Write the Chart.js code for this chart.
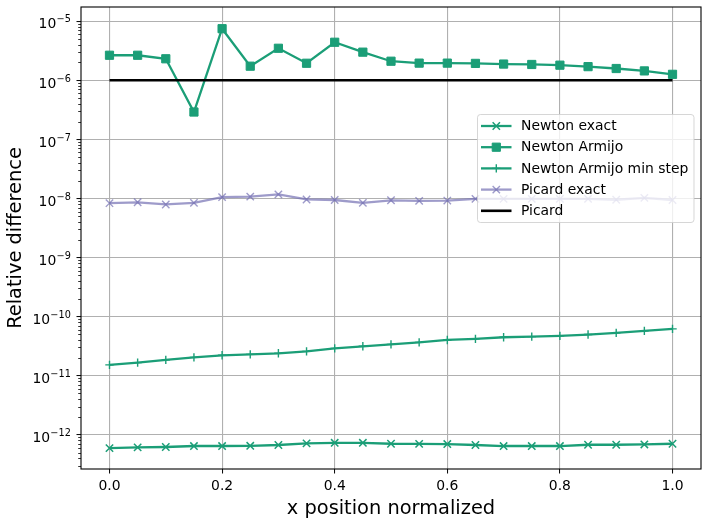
<!DOCTYPE html>
<html>
<head>
<meta charset="utf-8">
<script src="https://cdn.jsdelivr.net/npm/chart.js@4.4.1/dist/chart.umd.min.js"></script>
<style>
html,body{margin:0;padding:0;background:#fff;}
#wrap{width:709px;height:523px;}
</style>
</head>
<body>
<div id="wrap"><canvas id="c" width="709" height="523"></canvas></div>
<script>
// ---- data ----
const xPositions = [0.0,0.05,0.1,0.15,0.2,0.25,0.3,0.35,0.4,0.45,0.5,0.55,0.6,0.65,0.7,0.75,0.8,0.85,0.9,0.95,1.0];
const newtonExact = [5.94e-13,6.1e-13,6.2e-13,6.44e-13,6.44e-13,6.5e-13,6.7e-13,7.13e-13,7.3e-13,7.3e-13,7.04e-13,7.0e-13,6.95e-13,6.7e-13,6.44e-13,6.44e-13,6.44e-13,6.77e-13,6.77e-13,6.85e-13,7.04e-13];
const newtonArmijo = [2.65e-6,2.65e-6,2.31e-6,2.9e-7,7.46e-6,1.73e-6,3.48e-6,1.94e-6,4.4e-6,2.99e-6,2.1e-6,1.95e-6,1.95e-6,1.93e-6,1.88e-6,1.85e-6,1.8e-6,1.7e-6,1.58e-6,1.44e-6,1.26e-6];
const newtonArmijoMinStep = [1.52e-11,1.66e-11,1.85e-11,2.04e-11,2.21e-11,2.29e-11,2.39e-11,2.58e-11,2.9e-11,3.14e-11,3.39e-11,3.66e-11,4.02e-11,4.2e-11,4.47e-11,4.58e-11,4.71e-11,4.96e-11,5.3e-11,5.73e-11,6.2e-11];
const picardExact = [8.3e-9,8.6e-9,7.9e-9,8.4e-9,1.05e-8,1.07e-8,1.17e-8,9.6e-9,9.4e-9,8.4e-9,9.3e-9,9.1e-9,9.2e-9,9.8e-9,9.8e-9,9.8e-9,9.8e-9,9.8e-9,9.5e-9,1.02e-8,9.4e-9];
const picard = [1e-6,1e-6,1e-6,1e-6,1e-6,1e-6,1e-6,1e-6,1e-6,1e-6,1e-6,1e-6,1e-6,1e-6,1e-6,1e-6,1e-6,1e-6,1e-6,1e-6,1e-6];
const seriesNames = ["Newton exact","Newton Armijo","Newton Armijo min step","Picard exact","Picard"];
const xTickValues = [0.0,0.2,0.4,0.6,0.8,1.0];
const yTickValues = [1e-12,1e-11,1e-10,1e-9,1e-8,1e-7,1e-6,1e-5];
const yTickBase = "10";
const yTickExponents = ["\u221212","\u221211","\u221210","\u22129","\u22128","\u22127","\u22126","\u22125"];

const GREEN = '#1b9e77';
const PURPLE = 'rgba(117,112,179,0.7)';
const FONT = 'DejaVu Sans';

function pts(arr){ return xPositions.map((x,i)=>({x:x,y:arr[i]})); }

const datasets = [
  {label:seriesNames[0], data:pts(newtonExact), borderColor:GREEN, backgroundColor:GREEN, borderWidth:2.3,
   pointStyle:'crossRot', pointRadius:5.2, pointBorderWidth:1.5, pointBorderColor:GREEN, order:5},
  {label:seriesNames[1], data:pts(newtonArmijo), borderColor:GREEN, backgroundColor:GREEN, borderWidth:2.3,
   pointStyle:'rect', pointRadius:5.8, pointBorderWidth:1, pointBorderColor:GREEN, order:4},
  {label:seriesNames[2], data:pts(newtonArmijoMinStep), borderColor:GREEN, backgroundColor:GREEN, borderWidth:2.3,
   pointStyle:'cross', pointRadius:4.2, pointBorderWidth:1.4, pointBorderColor:GREEN, order:3},
  {label:seriesNames[3], data:pts(picardExact), borderColor:PURPLE, backgroundColor:PURPLE, borderWidth:2.3,
   pointStyle:'crossRot', pointRadius:5.2, pointBorderWidth:1.4, pointBorderColor:PURPLE, order:2},
  {label:seriesNames[4], data:pts(picard), borderColor:'#000', backgroundColor:'#000', borderWidth:2.6,
   pointRadius:0, order:1}
];
datasets.forEach(d=>{ d.showLine=true; d.fill=false; d.tension=0; d.pointHoverRadius=d.pointRadius; });

const frameAndLegend = {
  id:'frameAndLegend',
  afterDatasetsDraw(chart){
    const ctx = chart.ctx, a = chart.chartArea;
    const ys = chart.scales.y;
    ctx.save();
    // y tick labels: 10 with superscript exponent
    ctx.fillStyle='#000'; ctx.textAlign='right'; ctx.textBaseline='alphabetic';
    const xr = 70.8;
    yTickValues.forEach((v,i)=>{
      const py = ys.getPixelForValue(v);
      ctx.font = '9.7px "'+FONT+'"';
      const ew = ctx.measureText(yTickExponents[i]).width;
      ctx.fillText(yTickExponents[i], xr, py+1.3);
      ctx.font = '13.9px "'+FONT+'"';
      ctx.fillText(yTickBase, xr-ew-0.3, py+7.3);
    });
    // minor ticks on y
    ctx.strokeStyle='#000'; ctx.lineWidth=0.8;
    for (let e=-13; e<=-5; e++){
      for (let m=2; m<=9; m++){
        const v = m*Math.pow(10,e);
        const py = ys.getPixelForValue(v);
        if (py < a.top || py > a.bottom) continue;
        ctx.beginPath(); ctx.moveTo(a.left-2.8, Math.round(py)+0.5); ctx.lineTo(a.left, Math.round(py)+0.5); ctx.stroke();
      }
    }
    // frame
    ctx.lineWidth=1.1; ctx.strokeStyle='#000';
    ctx.strokeRect(a.left, a.top, a.right-a.left, a.bottom-a.top);
    // legend
    const bx=477.5, by=114.5, bw=216.5, bh=108, r=3;
    ctx.beginPath();
    ctx.moveTo(bx+r,by); ctx.lineTo(bx+bw-r,by); ctx.arcTo(bx+bw,by,bx+bw,by+r,r);
    ctx.lineTo(bx+bw,by+bh-r); ctx.arcTo(bx+bw,by+bh,bx+bw-r,by+bh,r);
    ctx.lineTo(bx+r,by+bh); ctx.arcTo(bx,by+bh,bx,by+bh-r,r);
    ctx.lineTo(bx,by+r); ctx.arcTo(bx,by,bx+r,by,r); ctx.closePath();
    ctx.fillStyle='rgba(255,255,255,0.8)'; ctx.fill();
    ctx.strokeStyle='rgba(204,204,204,0.8)'; ctx.lineWidth=1; ctx.stroke();
    ctx.font = '13.9px "'+FONT+'"';
    ctx.textBaseline='middle'; ctx.textAlign='left';
    chart.data.datasets.forEach((d,i)=>{
      const cy = 126 + i*21.2;
      ctx.strokeStyle=d.borderColor; ctx.lineWidth=d.borderWidth;
      ctx.beginPath(); ctx.moveTo(481,cy); ctx.lineTo(511.5,cy); ctx.stroke();
      if (d.pointRadius>0){
        ctx.fillStyle=d.backgroundColor; ctx.strokeStyle=d.pointBorderColor; ctx.lineWidth=d.pointBorderWidth;
        Chart.helpers.drawPoint(ctx,{pointStyle:d.pointStyle,radius:d.pointRadius,rotation:0,borderWidth:d.pointBorderWidth},496.3,cy);
      }
      ctx.fillStyle='#000';
      ctx.fillText(d.label, 521, cy+0.5);
    });
    ctx.restore();
  }
};

new Chart(document.getElementById('c'), {
  type:'scatter',
  data:{datasets:datasets},
  options:{
    responsive:false, animation:false, devicePixelRatio:1,
    layout:{padding:{left:0,top:7,right:8,bottom:0}},
    plugins:{legend:{display:false}, tooltip:{enabled:false}},
    scales:{
      x:{
        type:'linear', min:-0.0506, max:1.0506,
        afterBuildTicks(s){ s.ticks = xTickValues.map(v=>({value:v})); },
        afterFit(s){ s.height = 54; },
        ticks:{ callback:(v)=>Number(v).toFixed(1), color:'#000', font:{family:FONT,size:13.9}, padding:5, maxRotation:0, autoSkip:false },
        grid:{ color:'#b0b0b0', lineWidth:1.1, tickColor:'#000', tickLength:4.5, tickWidth:1 },
        border:{display:false},
        title:{display:true, text:'x position normalized', color:'#000', font:{family:FONT,size:19.4}, padding:{top:0,bottom:2}}
      },
      y:{
        type:'logarithmic', min:Math.pow(10,-12.58), max:Math.pow(10,-4.76),
        afterBuildTicks(s){ s.ticks = yTickValues.map(v=>({value:v})); },
        afterFit(s){ s.width = 81; },
        ticks:{ display:false },
        grid:{ color:'#b0b0b0', lineWidth:1.1, tickColor:'#000', tickLength:4.5, tickWidth:1 },
        border:{display:false},
        title:{display:true, text:'Relative difference', color:'#000', font:{family:FONT,size:19.4}, padding:{top:4,bottom:0}}
      }
    }
  },
  plugins:[frameAndLegend]
});
</script>
</body>
</html>
